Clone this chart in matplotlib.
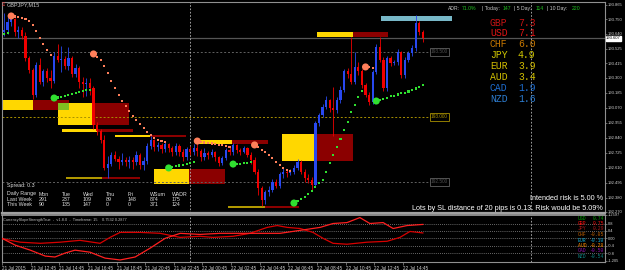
import numpy as np
import matplotlib
matplotlib.use('Agg')
import matplotlib.pyplot as plt
from matplotlib.patches import Rectangle
from matplotlib.transforms import blended_transform_factory

###########################################################
# data
###########################################################

first_open = 193.65
closes = [
    193.67, 193.73, 193.75, 193.65, 193.67, 193.62, 193.45, 193.36, 193.17, 193.40,
    193.27, 193.35, 193.30, 193.28, 193.47, 193.44, 193.445, 193.39, 193.45, 193.33,
    193.38, 193.27, 193.25, 193.26, 193.225, 192.94, 192.89, 192.82, 192.61, 192.64,
    192.71, 192.68, 192.65, 192.67, 192.65, 192.67, 192.65, 192.71, 192.63, 192.66,
    192.78, 192.82, 192.77, 192.785, 192.75, 192.79, 192.76, 192.73, 192.78, 192.73,
    192.69, 192.75, 192.73, 192.76, 192.74, 192.69, 192.72, 192.71, 192.73, 192.69,
    192.645, 192.685, 192.745, 192.73, 192.785, 192.745, 192.73, 192.76, 192.71, 192.67,
    192.58, 192.45, 192.36, 192.42, 192.44, 192.50, 192.47, 192.56, 192.58, 192.57,
    192.575, 192.61, 192.655, 192.58, 192.53, 192.515, 192.48, 192.95, 193.015, 193.08,
    193.13, 193.07, 193.055, 193.13, 193.21, 193.35, 193.33, 193.27, 193.385, 193.35,
    193.245, 193.17, 193.115, 193.345, 193.54, 193.44, 193.22, 193.455, 193.415, 193.42,
    193.50, 193.32, 193.44, 193.49, 193.53, 193.72, 193.655, 193.607]
highs = [
    193.80, 193.78, 193.77, 193.76, 193.70, 193.69, 193.65, 193.47, 193.38, 193.42,
    193.45, 193.37, 193.38, 193.36, 193.50, 193.56, 193.545, 193.47, 193.54, 193.47,
    193.41, 193.39, 193.31, 193.30, 193.30, 193.24, 192.96, 192.91, 192.86, 192.70,
    192.73, 192.74, 192.70, 192.72, 192.69, 192.70, 192.69, 192.74, 192.72, 192.69,
    192.80, 192.85, 192.83, 192.81, 192.80, 192.81, 192.80, 192.78, 192.80, 192.79,
    192.75, 192.77, 192.78, 192.79, 192.80, 192.75, 192.76, 192.74, 192.75, 192.74,
    192.70, 192.70, 192.76, 192.77, 192.80, 192.79, 192.76, 192.78, 192.77, 192.73,
    192.69, 192.60, 192.47, 192.44, 192.47, 192.52, 192.52, 192.58, 192.61, 192.60,
    192.60, 192.63, 192.68, 192.67, 192.60, 192.56, 192.54, 192.97, 193.03, 193.10,
    193.16, 193.14, 193.23, 193.15, 193.24, 193.37, 193.38, 193.615, 193.50, 193.42,
    193.37, 193.26, 193.19, 193.36, 193.56, 193.615, 193.46, 193.47, 193.47, 193.44,
    193.52, 193.51, 193.46, 193.51, 193.55, 193.785, 193.74, 193.67]
lows = [
    193.62, 193.64, 193.70, 193.62, 193.61, 193.60, 193.43, 193.34, 193.14, 193.15,
    193.25, 193.24, 193.27, 193.22, 193.26, 193.42, 193.345, 193.37, 193.36, 193.31,
    193.31, 193.22, 193.15, 193.16, 193.17, 192.91, 192.86, 192.80, 192.59, 192.53,
    192.62, 192.66, 192.60, 192.63, 192.62, 192.61, 192.60, 192.63, 192.60, 192.59,
    192.64, 192.75, 192.74, 192.74, 192.72, 192.73, 192.73, 192.70, 192.71, 192.70,
    192.66, 192.67, 192.71, 192.71, 192.70, 192.66, 192.67, 192.68, 192.69, 192.66,
    192.62, 192.63, 192.67, 192.71, 192.71, 192.72, 192.71, 192.72, 192.69, 192.64,
    192.56, 192.40, 192.315, 192.33, 192.39, 192.42, 192.45, 192.45, 192.53, 192.54,
    192.55, 192.56, 192.59, 192.56, 192.50, 192.49, 192.44, 192.46, 192.93, 193.00,
    193.06, 193.04, 192.85, 193.03, 193.11, 193.19, 193.30, 193.25, 193.25, 193.32,
    193.22, 193.15, 193.09, 193.10, 193.33, 193.42, 193.20, 193.20, 193.39, 193.40,
    193.40, 193.30, 193.30, 193.42, 193.47, 193.51, 193.63, 193.58]

# parabolic SAR dots, one per bar
sar = [
    193.638, 193.646, 193.777, 193.773, 193.769, 193.762, 193.754, 193.738, 193.708, 193.662,
    193.608, 193.562, 193.515, 193.477, 193.146, 193.150, 193.154, 193.162, 193.169, 193.177,
    193.185, 193.190, 193.200, 193.205, 193.210, 193.485, 193.462, 193.438, 193.392, 193.338,
    193.277, 193.223, 193.169, 193.123, 193.085, 193.046, 193.008, 192.977, 192.946, 192.915,
    192.885, 192.862, 192.838, 192.823, 192.815, 192.808, 192.608, 192.615, 192.623, 192.627,
    192.631, 192.638, 192.646, 192.654, 192.815, 192.808, 192.804, 192.800, 192.796, 192.792,
    192.788, 192.785, 192.777, 192.769, 192.638, 192.638, 192.642, 192.646, 192.646, 192.654,
    192.785, 192.769, 192.746, 192.731, 192.708, 192.685, 192.654, 192.631, 192.608, 192.592,
    192.585, 192.338, 192.354, 192.369, 192.385, 192.408, 192.431, 192.462, 192.492, 192.515,
    192.577, 192.646, 192.708, 192.769, 192.831, 192.900, 192.962, 193.038, 193.092, 193.154,
    193.200, 193.385, 193.381, 193.377, 193.123, 193.131, 193.138, 193.146, 193.158, 193.165,
    193.173, 193.181, 193.188, 193.196, 193.208, 193.219, 193.231, 193.246]

# supply / demand zones (bar index from-to, price top-bottom, kind)
zone_start = [-0.6, 8.1, 15.1, 15.1, 24.9, 16.2, 26.0, 31.0, 40.8, 41.9, 51.7, 54.5, 63.7,
              77.7, 87.4, 62.6, 72.9, 87.4, 97.5, 105.3, 17.3, 27.4]
zone_end = [8.1, 18.2, 24.9, 18.2, 34.9, 26.0, 36.0, 40.8, 50.8, 51.7, 61.7, 63.7, 73.7,
            87.4, 97.5, 72.9, 82.4, 97.5, 107.3, 125.1, 27.4, 38.0]
zone_top = [193.131, 193.131, 193.108, 193.108, 193.108, 192.908, 192.908, 192.862, 192.862,
            192.600, 192.600, 192.823, 192.823, 192.869, 192.869, 192.315, 192.315, 193.654,
            193.654, 193.777, 192.538, 192.538]
zone_bot = [193.054, 193.054, 192.938, 193.054, 192.938, 192.885, 192.885, 192.846, 192.846,
            192.485, 192.485, 192.792, 192.792, 192.662, 192.662, 192.300, 192.300, 193.615,
            193.615, 193.738, 192.523, 192.523]
zone_kind = ['y', 'r', 'y', 'g', 'r', 'y', 'r', 'y', 'r', 'y', 'r', 'y', 'r',
             'y', 'r', 'o', 'r', 'y', 'r', 't', 'o', 'r']

levels = [193.5, 193.0, 192.5]
level_kind = ['gray', 'gold', 'gray']

price_ticks = [193.865, 193.750, 193.640, 193.525, 193.415, 193.300, 193.185, 193.070,
               192.955, 192.840, 192.725, 192.610, 192.495, 192.380, 192.270]

time_labels = ['21 Jul 2015', '21 Jul 12:45', '21 Jul 14:45', '21 Jul 16:45', '21 Jul 18:45',
               '21 Jul 20:45', '21 Jul 22:45', '22 Jul 00:45', '22 Jul 02:45', '22 Jul 04:45',
               '22 Jul 06:45', '22 Jul 08:45', '22 Jul 10:45', '22 Jul 12:45', '22 Jul 14:45']
separators = [52, 147.2]

# currency strength table
cs_names = ['GBP', 'USD', 'CHF', 'JPY', 'EUR', 'AUD', 'CAD', 'NZD']
cs_values = [7.3, 7.1, 6.0, 4.9, 3.9, 3.4, 1.9, 1.6]
cs_colors = ['#c81414', '#e01414', '#c87800', '#d2c800', '#d2bc00', '#d2c000', '#1e6ed2', '#2e7ed2']

# daily range box
dr_days = ['Mon', 'Tue', 'Wed', 'Thu', 'Fri', 'WSum', 'WADR']
last_week = [291, 237, 109, 89, 148, 874, 175]
this_week = [90, 135, 147, 0, 0, 371, 124]

# CurrencySlopeStrength lines (bar index, value)
gbp_x = [-1.1, 3.1, 7.3, 11.5, 14.2, 17, 19.8, 24, 28.2, 32.4, 36.6, 40.8, 45, 49.2, 54.7,
         60.3, 68.7, 77.1, 82.7, 88.3, 91.9, 95.8, 99.4, 102.2, 105.9, 108.7, 112.6, 117]
gbp_v = [0.05, -0.37, -0.64, -0.96, -1.01, -0.8, -0.64, -0.75, -1.07, -1.17, -1.01, -0.53, 0.0,
         0.27, 0.21, 0.27, 0.27, 0.27, 0.43, 0.59, 0.8, 0.85, 1.12, 0.8, 0.85, 0.53, 0.69, 0.75]
jpy_x = [-1.1, 4.5, 10.1, 15.6, 21.2, 26.8, 29.6, 32.4, 38, 43.6, 49.2, 54.7, 58.4, 64, 68.7,
         73.5, 76.3, 79.1, 82.7, 86.3, 89.1, 91.9, 95.8, 101.4, 107, 110.6, 113.4, 117]
jpy_v = [0.0, -0.21, -0.27, -0.21, -0.11, -0.27, 0.05, 0.32, 0.32, 0.27, 0.05, 0.11, 0.05, 0.11,
         0.27, 0.59, 0.69, 0.59, 0.53, 0.32, 0.0, -0.27, -0.32, -0.21, -0.16, 0.05, 0.37, 0.29]
csv_names = ['USD', 'GBP', 'JPY', 'CHF', 'EUR', 'AUD', 'CAD', 'NZD']
csv_values = [0.74, 0.75, 0.29, -0.05, -0.10, -0.28, -0.50, -0.54]
csv_colors = ['#00a000', '#ff1010', '#b01818', '#c06000', '#10a8d0', '#ff8c00', '#9010b0', '#108888']
csv_levels = [0.8, 0.4, 0.0, -0.4, -0.8]
csv_ticks = [1.2597, 0.8, 0.4, 0.0, -0.4, -0.8, -1.205]
csv_ticklabels = ['1.2597', '0.8', '0.4', '0.00', '-0.4', '-0.8', '-1.205']

###########################################################
# figure
###########################################################

W, H = 625, 270
plt.rcParams['font.family'] = ['Liberation Sans', 'DejaVu Sans']
fig = plt.figure(figsize=(W / 100, H / 100), dpi=100, facecolor='black')

def fx(x, y):
    return x / W, 1 - y / H

def ftext(x, y, s, **kw):
    a, b = fx(x, y)
    kw.setdefault('va', 'center')
    fig.text(a, b, s, **kw)

ax = fig.add_axes([2 / W, 1 - 213 / H, 603 / W, 211 / H], facecolor='black')
ax2 = fig.add_axes([2 / W, 1 - 262 / H, 603 / W, 47 / H], facecolor='black')
xmin, xmax = -0.56, 167.9
for a in (ax, ax2):
    a.set_xlim(xmin, xmax)
    for sp in a.spines.values():
        sp.set_color('#909090')
        sp.set_linewidth(0.8)
ax.spines['bottom'].set_linewidth(1.6)
ax.spines['bottom'].set_color('#a0a0a0')
ax2.spines['top'].set_linewidth(1.2)
ax2.spines['top'].set_color('#a0a0a0')
ax.set_ylim(192.2615, 193.8846)
ax2.set_ylim(-1.28, 1.2267)

idx = np.arange(len(closes))
c = np.array(closes)
o = np.r_[first_open, c[:-1]]
hi = np.array(highs)
lo = np.array(lows)
s = np.array(sar)

# zones
zcol = {'y': '#ffd700', 'r': '#8b0000', 'g': '#80c020', 'o': '#b09800', 't': '#78b8c8'}
for x0, x1, t, b, k in zip(zone_start, zone_end, zone_top, zone_bot, zone_kind):
    ax.add_patch(Rectangle((x0, b), x1 - x0, t - b, facecolor=zcol[k], edgecolor='none',
                           zorder=2 if k == 'g' else 1))

# level lines and their tags
lcol = {'gray': '#606060', 'gold': '#a89000'}
for lv, k in zip(levels, level_kind):
    ax.plot([xmin, 118.7], [lv, lv], color=lcol[k], lw=0.7, ls=(0, (2, 2)), zorder=1.5)
    ax.text(119.3, lv, '%.3f' % lv, fontsize=3.4, color=lcol[k] if k == 'gold' else '#505050',
            va='center', ha='left', zorder=5,
            bbox=dict(facecolor='black', edgecolor=lcol[k], lw=0.6, pad=0.8))

# bid line
ax.axhline(c[-1], color='#555555', lw=0.9, zorder=1.6)

# period separators
for sx in separators:
    for a in (ax, ax2):
        a.axvline(sx, color='#b8b8b8', lw=0.6, ls=(0, (2, 2)), zorder=1.7)

# candles
up = c >= o
cols = np.where(up, '#2848f0', '#f00000')
ax.vlines(idx, lo, hi, colors=cols, lw=0.6, zorder=3)
ax.bar(idx, np.maximum(np.abs(c - o), 0.004), bottom=np.minimum(o, c), width=0.62,
       color=cols, lw=0, zorder=3)

# SAR dots, big dot where it flips side
above = s > c
flip = np.r_[False, above[1:] != above[:-1]]
scol = np.where(above, '#ff7f5a', '#30e030')
ax.scatter(idx[~flip], s[~flip], s=2.2, marker='s', c=scol[~flip], lw=0, zorder=4)
ax.scatter(idx[flip], s[flip], s=26, c=scol[flip], lw=0, zorder=4)

# right price axis
ax.set_xticks([])
ax.yaxis.tick_right()
ax.set_yticks(price_ticks)
ax.set_yticklabels(['%.3f' % p for p in price_ticks])
ax.tick_params(axis='y', colors='#909090', labelcolor='#d0d0d0', labelsize=3.0,
               length=1.5, width=0.5, pad=0.8)
tr = blended_transform_factory(ax.transAxes, ax.transData)
ax.text(1.002, c[-1], '%.3f' % c[-1], transform=tr, fontsize=3.0, color='black', va='center',
        ha='left', zorder=6, bbox=dict(facecolor='white', edgecolor='white', pad=0.4))

# indicator panel
for lv in csv_levels:
    ax2.axhline(lv, color='#8a8a8a', lw=0.6, ls=(0, (1, 1.5)), zorder=1)
ax2.plot(jpy_x, jpy_v, color='#d80000', lw=0.9, zorder=3)
ax2.plot(gbp_x, gbp_v, color='#ff2020', lw=0.9, zorder=3)
ax2.yaxis.tick_right()
ax2.set_yticks(csv_ticks)
ax2.set_yticklabels(csv_ticklabels)
ax2.tick_params(axis='y', colors='#909090', labelcolor='#d0d0d0', labelsize=2.9,
                length=1.5, width=0.5, pad=0.8)
ax2.set_xticks([8 * k - 0.6 for k in range(len(time_labels))])
ax2.set_xticklabels(time_labels, ha='left')
ax2.tick_params(axis='x', colors='#909090', labelcolor='#d0d0d0', labelsize=3.3,
                length=2, width=0.5, pad=1)

for i, (n, v, col) in enumerate(zip(csv_names, csv_values, csv_colors)):
    y = 218 + 5.5 * i
    ftext(582, y, n, fontsize=3.4, color=col, ha='center', family='Liberation Mono')
    ftext(604, y, '%.2f' % v, fontsize=3.4, color=col, ha='right', family='Liberation Mono')

ftext(3, 219.5, 'CurrencySlopeStrengthTrue  -  v1.8.0  -  Timeframe: 15    0.7532 0.2877',
      fontsize=2.8, color='#c0c0c0')

# title
ftext(7, 4.5, 'GBPJPY,M15', fontsize=4, color='#c8c8c8')
ftext(2, 4.5, '\u2261', fontsize=4, color='#e04040')

# ADR line
adr = [('ADR:', '#c8c8c8', 448), ('71.0%', '#20c020', 462), ('| Today:', '#c8c8c8', 482),
       ('147', '#20c020', 503), ('| 5 Day:', '#c8c8c8', 514), ('114', '#20c020', 536),
       ('| 10 Day:', '#c8c8c8', 547), ('220', '#20c020', 572)]
for t, col, x in adr:
    ftext(x, 8.5, t, fontsize=3.7, color=col)

# currency strength table
for i, (n, v, col) in enumerate(zip(cs_names, cs_values, cs_colors)):
    y = 22.5 + 11 * i
    ftext(490, y, n, fontsize=7, color=col, family='Liberation Mono')
    ftext(518, y, '%.1f' % v, fontsize=7, color=col, family='Liberation Mono')

# daily range box
ftext(7, 186, 'Spread: 0.3', fontsize=3.8, color='#e0e0e0')
ftext(7, 194, 'Daily Range', fontsize=3.8, color='#e0e0e0')
ftext(7, 199.3, 'Last Week', fontsize=3.8, color='#e0e0e0')
ftext(7, 204.3, 'This Week', fontsize=3.8, color='#e0e0e0')
for d, a, b, x in zip(dr_days, last_week, this_week, [39, 62, 83, 106, 128, 150, 172]):
    ftext(x, 194, d, fontsize=3.8, color='#e0e0e0')
    ftext(x, 199.3, str(a), fontsize=3.8, color='#e0e0e0')
    ftext(x, 204.3, str(b), fontsize=3.8, color='#e0e0e0')

# risk text
ftext(603, 198, 'Intended risk is 5.00 %', fontsize=5.2, color='white', ha='right')
ftext(603, 208.5, 'Lots by SL distance of 20 pips is 0.13. Risk would be 5.09%',
      fontsize=5.2, color='white', ha='right')

fig.savefig('out.png', dpi=100, facecolor='black')
